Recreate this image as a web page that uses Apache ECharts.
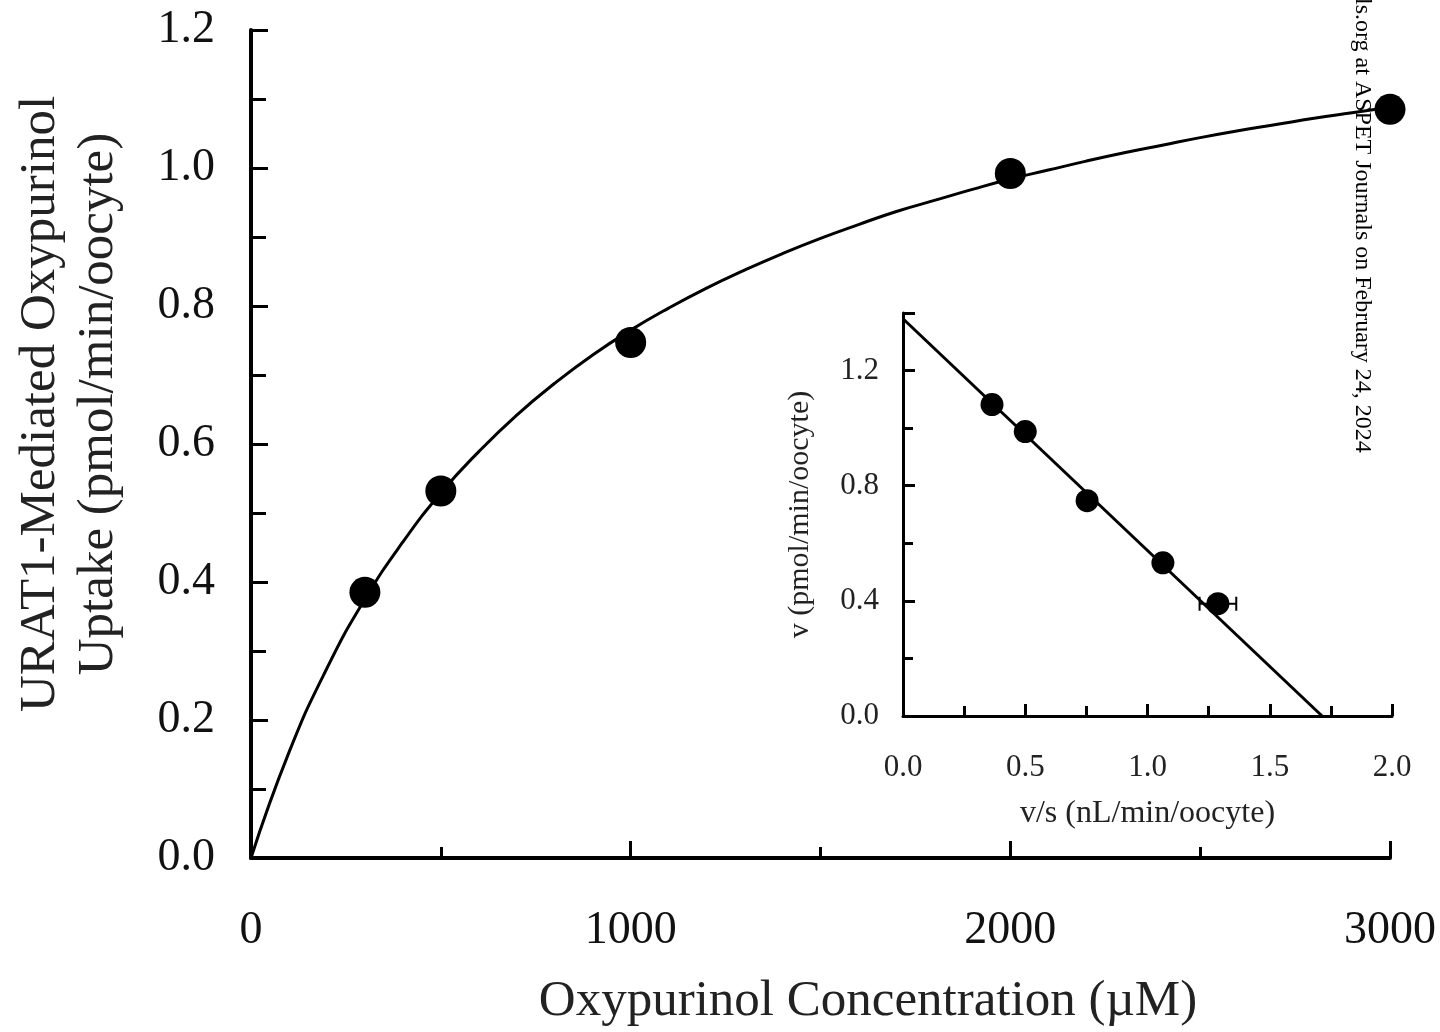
<!DOCTYPE html>
<html>
<head>
<meta charset="utf-8">
<script src="https://cdn.jsdelivr.net/npm/echarts@6/dist/echarts.min.js"></script>
<style>
  html, body { margin: 0; padding: 0; background: #fff; }
  #chart { width: 1440px; height: 1032px; }
</style>
</head>
<body>
<div id="chart"></div>
<script>
// main panel: measured uptake
const concentrations = [300, 500, 1000, 2000, 3000];
const uptake = [0.385, 0.532, 0.747, 0.992, 1.085];

// fitted curve, every 100 uM
const curveX = [0, 100, 200, 300, 400, 500, 600, 700, 800, 900, 1000, 1100, 1200, 1300, 1400, 1500,
  1600, 1700, 1800, 1900, 2000, 2100, 2200, 2300, 2400, 2500, 2600, 2700, 2800, 2900, 3000];
const curveY = [0, 0.153, 0.275, 0.375, 0.458, 0.529, 0.589, 0.642, 0.688, 0.729, 0.765, 0.797, 0.826,
  0.852, 0.876, 0.898, 0.918, 0.937, 0.953, 0.969, 0.984, 0.997, 1.010, 1.022, 1.033, 1.044,
  1.054, 1.063, 1.072, 1.080, 1.088];

// inset: Eadie-Hofstee plot
const insetVS = [0.364, 0.50, 0.753, 1.063, 1.288];
const insetV = [1.082, 0.988, 0.748, 0.532, 0.39];
const insetErrX = [0, 0, 0, 0, 0.075];
const insetErrY = [0.03, 0, 0, 0, 0];
const insetLineX = [0, 1.714];
const insetLineY = [1.38, 0];

const FONT = "Liberation Serif";
const chart = echarts.init(document.getElementById("chart"));

const pairs = (xs, ys) => xs.map((x, i) => [x, ys[i]]);

const option = {
  backgroundColor: "#fff",
  animation: false,
  textStyle: { fontFamily: FONT, color: "#111" },
  grid: [
    { left: 251, right: 50, top: 30, bottom: 174 },
    { left: 903, right: 48, top: 313, bottom: 316 },
  ],
  xAxis: [
    {
      gridIndex: 0,
      type: "value",
      min: 0,
      max: 3000,
      interval: 1000,
      splitLine: { show: false },
      axisLine: { lineStyle: { color: "#000", width: 4 } },
      axisTick: { inside: true, length: 17, lineStyle: { color: "#000", width: 3 } },
      minorTick: { show: true, splitNumber: 2, length: 11, lineStyle: { color: "#000", width: 3 } },
      axisLabel: { margin: 50, fontSize: 46, fontFamily: FONT, color: "#111", formatter: (v) => String(v) },
    },
    {
      gridIndex: 1,
      type: "value",
      min: 0,
      max: 2,
      interval: 0.5,
      splitLine: { show: false },
      axisLine: { lineStyle: { color: "#000", width: 3 } },
      axisTick: { inside: true, length: 12, lineStyle: { color: "#000", width: 3 } },
      minorTick: { show: true, splitNumber: 2, length: 10, lineStyle: { color: "#000", width: 3 } },
      axisLabel: { margin: 36, fontSize: 31, fontFamily: FONT, color: "#222", formatter: (v) => v.toFixed(1) },
      name: "v/s (nL/min/oocyte)",
      nameLocation: "middle",
      nameGap: 82,
      nameTextStyle: { fontSize: 32, fontFamily: FONT, color: "#222" },
    },
  ],
  yAxis: [
    {
      gridIndex: 0,
      type: "value",
      min: 0,
      max: 1.2,
      interval: 0.2,
      splitLine: { show: false },
      axisLine: { lineStyle: { color: "#000", width: 4 } },
      axisTick: { inside: true, length: 17, lineStyle: { color: "#000", width: 3 } },
      minorTick: { show: true, splitNumber: 2, length: 15, lineStyle: { color: "#000", width: 3 } },
      axisLabel: { margin: 36, fontSize: 46, fontFamily: FONT, color: "#111", formatter: (v) => v.toFixed(1) },
    },
    {
      gridIndex: 1,
      type: "value",
      min: 0,
      max: 1.4,
      interval: 0.4,
      splitLine: { show: false },
      axisLine: { lineStyle: { color: "#000", width: 3 } },
      axisTick: { inside: true, length: 12, lineStyle: { color: "#000", width: 3 } },
      minorTick: { show: true, splitNumber: 2, length: 10, lineStyle: { color: "#000", width: 3 } },
      axisLabel: {
        margin: 24, fontSize: 31, fontFamily: FONT, color: "#222",
        formatter: (v) => (v > 1.3 ? "" : v.toFixed(1)),
      },
      name: "v (pmol/min/oocyte)",
      nameLocation: "middle",
      nameGap: 88,
      nameTextStyle: { fontSize: 30, fontFamily: FONT, color: "#222" },
    },
  ],
  series: [
    {
      type: "line",
      xAxisIndex: 0,
      yAxisIndex: 0,
      data: pairs(curveX, curveY),
      smooth: true,
      showSymbol: false,
      lineStyle: { color: "#000", width: 3 },
    },
    {
      type: "scatter",
      xAxisIndex: 0,
      yAxisIndex: 0,
      data: pairs(concentrations, uptake),
      symbolSize: 31,
      itemStyle: { color: "#000", opacity: 1 },
    },
    {
      type: "line",
      xAxisIndex: 1,
      yAxisIndex: 1,
      data: pairs(insetLineX, insetLineY),
      showSymbol: false,
      lineStyle: { color: "#000", width: 3 },
    },
    {
      type: "custom",
      xAxisIndex: 1,
      yAxisIndex: 1,
      data: insetVS.map((x, i) => [x, insetV[i], insetErrX[i], insetErrY[i]]),
      renderItem: (params, api) => {
        const x = api.value(0), y = api.value(1);
        const ex = api.value(2), ey = api.value(3);
        const children = [];
        const style = { stroke: "#000", lineWidth: 2 };
        if (ex > 0) {
          const a = api.coord([x - ex, y]);
          const b = api.coord([x + ex, y]);
          children.push({ type: "line", shape: { x1: a[0], y1: a[1], x2: b[0], y2: b[1] }, style });
          children.push({ type: "line", shape: { x1: a[0], y1: a[1] - 7, x2: a[0], y2: a[1] + 7 }, style });
          children.push({ type: "line", shape: { x1: b[0], y1: b[1] - 7, x2: b[0], y2: b[1] + 7 }, style });
        }
        if (ey > 0) {
          const a = api.coord([x, y - ey]);
          const b = api.coord([x, y + ey]);
          children.push({ type: "line", shape: { x1: a[0], y1: a[1], x2: b[0], y2: b[1] }, style });
          children.push({ type: "line", shape: { x1: b[0] - 7, y1: b[1], x2: b[0] + 7, y2: b[1] }, style });
        }
        return { type: "group", children };
      },
      z: 3,
    },
    {
      type: "scatter",
      xAxisIndex: 1,
      yAxisIndex: 1,
      data: pairs(insetVS, insetV),
      symbolSize: 23,
      itemStyle: { color: "#000", opacity: 1 },
      z: 4,
    },
  ],
  graphic: [
    {
      type: "text",
      x: 70,
      y: 404,
      rotation: Math.PI / 2,
      style: {
        text: "URAT1-Mediated Oxypurinol\nUptake (pmol/min/oocyte)",
        font: "51px 'Liberation Serif'",
        fill: "#222",
        align: "center",
        verticalAlign: "middle",
        lineHeight: 58,
      },
    },
    {
      type: "text",
      x: 868,
      y: 1002,
      style: {
        text: "Oxypurinol Concentration (\u00b5M)",
        font: "51px 'Liberation Serif'",
        fill: "#222",
        align: "center",
        verticalAlign: "middle",
      },
    },
    {
      type: "text",
      x: 1362,
      y: -2,
      rotation: -Math.PI / 2,
      style: {
        text: "ls.org at ASPET Journals on February 24, 2024",
        font: "24px 'Liberation Serif'",
        fill: "#000",
        align: "left",
        verticalAlign: "middle",
      },
    },
  ],
};

chart.setOption(option);
</script>
</body>
</html>
